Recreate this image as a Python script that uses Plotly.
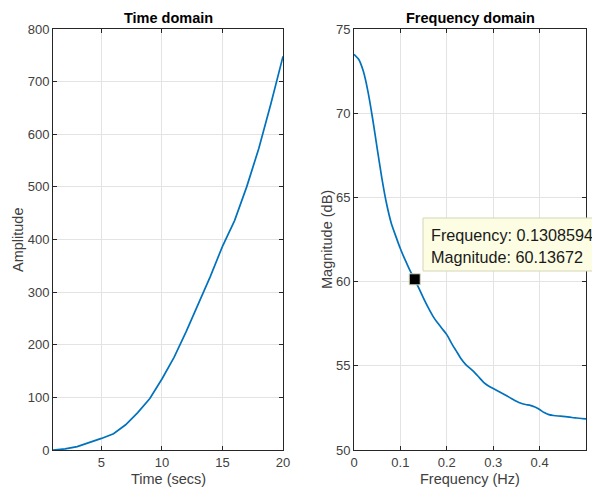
import plotly.graph_objects as go

# ---- data ----
time_s = list(range(1, 21))
amplitude = [0, 2, 6.5, 14, 22, 31, 48, 71, 98, 135, 176, 225, 276, 330, 387, 436, 500, 573, 658, 748]

freq_hz = [0.00, 0.01, 0.02, 0.03, 0.04, 0.05, 0.06, 0.07, 0.08, 0.09,
           0.10, 0.11, 0.12, 0.13, 0.14, 0.15, 0.16, 0.17, 0.18, 0.19,
           0.20, 0.21, 0.22, 0.23, 0.24, 0.25, 0.26, 0.27, 0.28, 0.29,
           0.30, 0.31, 0.32, 0.33, 0.34, 0.35, 0.36, 0.37, 0.38, 0.39,
           0.40, 0.41, 0.42, 0.43, 0.44, 0.45, 0.46, 0.47, 0.48, 0.49, 0.50]
magnitude_db = [73.5, 73.2, 72.5, 71.3, 69.7, 67.9, 66.15, 64.65, 63.5, 62.7,
                61.95, 61.3, 60.7, 60.17, 59.6, 59.0, 58.45, 57.95, 57.55, 57.2,
                56.85, 56.35, 55.9, 55.45, 55.1, 54.85, 54.6, 54.3, 54.0, 53.8,
                53.65, 53.5, 53.35, 53.2, 53.05, 52.9, 52.78, 52.7, 52.65, 52.55,
                52.4, 52.22, 52.1, 52.05, 52.02, 52.0, 51.97, 51.93, 51.9, 51.87, 51.85]

tip_freq = [0.1308594]
tip_mag = [60.13672]

time_ticks = [5, 10, 15, 20]
amp_ticks = [0, 100, 200, 300, 400, 500, 600, 700, 800]
freq_ticks = [0, 0.1, 0.2, 0.3, 0.4]
freq_ticktext = ["0", "0.1", "0.2", "0.3", "0.4"]
mag_ticks = [50, 55, 60, 65, 70, 75]

# ---- figure ----
W, H = 592, 488
ML, MR, MT, MB = 53, 6, 29, 38
PW = W - ML - MR
PH = H - MT - MB

def px_x(p):
    return (p - ML) / PW

def px_y(p):
    return 1 - (p - MT) / PH

LINE = "#0072BD"
AX = "#262626"
GRID = "#e3e3e3"
FONT = "Liberation Sans, Arial, sans-serif"

fig = go.Figure()
fig.add_trace(go.Scatter(x=time_s, y=amplitude, mode="lines",
                         line=dict(color=LINE, width=1.7), xaxis="x", yaxis="y",
                         showlegend=False, hoverinfo="skip"))
fig.add_trace(go.Scatter(x=freq_hz, y=magnitude_db, mode="lines",
                         line=dict(color=LINE, width=1.7, shape="spline", smoothing=0.6),
                         xaxis="x2", yaxis="y2", showlegend=False, hoverinfo="skip"))
fig.add_trace(go.Scatter(x=tip_freq, y=tip_mag, mode="markers",
                         marker=dict(symbol="square", size=11, color="black",
                                     line=dict(color="#d8d8c0", width=1)),
                         xaxis="x2", yaxis="y2", showlegend=False, hoverinfo="skip"))

axis_common = dict(showline=True, linecolor=AX, linewidth=1, mirror="ticks",
                   ticks="inside", ticklen=4, tickcolor=AX, showgrid=True,
                   gridcolor=GRID, gridwidth=1, zeroline=False, automargin=False,
                   tickfont=dict(family=FONT, size=13, color="#404040"))

fig.update_layout(
    width=W, height=H, autosize=False,
    margin=dict(l=ML, r=MR, t=MT, b=MB, pad=0),
    paper_bgcolor="white", plot_bgcolor="white",
    font=dict(family=FONT, color=AX),
    xaxis=dict(domain=[0, px_x(283)], range=[1, 20], tickvals=time_ticks, anchor="y", **axis_common),
    yaxis=dict(domain=[0, 1], range=[0, 800], tickvals=amp_ticks, anchor="x", **axis_common),
    xaxis2=dict(domain=[px_x(354), 1], range=[0, 0.5], tickvals=freq_ticks,
                ticktext=freq_ticktext, anchor="y2", **axis_common),
    yaxis2=dict(domain=[0, 1], range=[50, 75], tickvals=mag_ticks, anchor="x2", **axis_common),
)

def lab(text, xp, yp, size, color=AX, angle=0, xanchor="center"):
    return dict(text=text, x=px_x(xp), y=px_y(yp), xref="paper", yref="paper",
                xanchor=xanchor, yanchor="middle", showarrow=False, textangle=angle,
                font=dict(size=size, color=color, family=FONT))

ann = [
    lab("<b>Time domain</b>", 168, 18, 14.5, "black"),
    lab("<b>Frequency domain</b>", 470, 18, 14.5, "black"),
    lab("Time (secs)", 168, 479, 14.5, "#404040"),
    lab("Frequency (Hz)", 470, 479, 14.5, "#404040"),
    lab("Amplitude", 18, 240, 14.5, "#404040", -90),
    lab("Magnitude (dB)", 327, 240, 14.5, "#404040", -90),
    lab(f"Frequency: {tip_freq[0]:.7f}", 429, 235, 16.2, "#1a1a1a", 0, "left"),
    lab(f"Magnitude: {tip_mag[0]:.5f}", 429, 256.5, 16.2, "#1a1a1a", 0, "left"),
]
fig.update_layout(annotations=ann)

fig.add_shape(type="rect", xref="paper", yref="paper",
              x0=px_x(423), x1=px_x(610), y0=px_y(271), y1=px_y(218),
              fillcolor="#fdfde3", line=dict(color="#d5d5b8", width=1), layer="above")

fig.write_html("out.html")
